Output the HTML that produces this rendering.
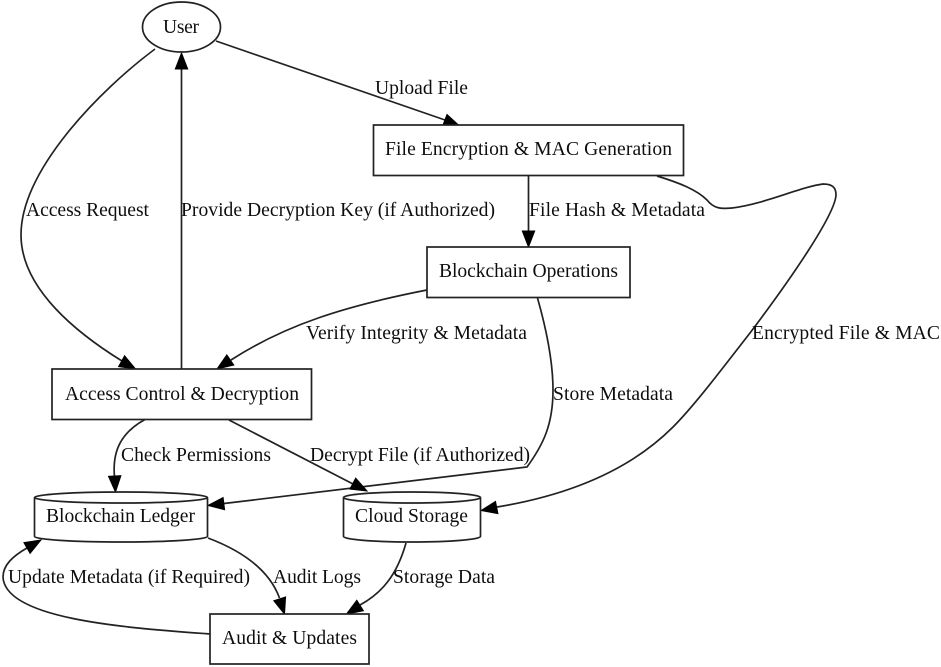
<!DOCTYPE html>
<html>
<head>
<meta charset="utf-8">
<style>
html,body{margin:0;padding:0;background:#fff;width:941px;height:667px;overflow:hidden}
svg{display:block}
text{font-family:"Liberation Serif",serif;font-size:19.6px;fill:#111}
.s{fill:#fff;stroke:#222;stroke-width:1.7}
.e{fill:none;stroke:#222;stroke-width:1.7}
.a{fill:#000;stroke:#000;stroke-width:1}
</style>
</head>
<body>
<svg width="941" height="667" viewBox="0 0 941 667" xmlns="http://www.w3.org/2000/svg">
<defs><filter id="b" x="0" y="0" width="100%" height="100%"><feGaussianBlur stdDeviation="0.35"/></filter></defs>
<g filter="url(#b)">
<rect width="941" height="667" fill="#fff"/>
<!-- edges -->
<path class="e" d="M216,41 L445,120"/>
<polygon class="a" points="458.5,125 443,125 447,114.5"/>
<path class="e" d="M155,49 C100,90 21,170 21,235 C21,290 80,335 122,361"/>
<polygon class="a" points="135.5,369 118.6,366.6 124.6,355.8"/>
<path class="e" d="M181.5,369 V68"/>
<polygon class="a" points="181.5,53 175.3,69 187.7,69"/>
<path class="e" d="M528.5,175.5 V232"/>
<polygon class="a" points="528.5,247 522.3,231 534.7,231"/>
<path class="e" d="M657,176 C680,183 697,190 707,200 C714,209 722,209 732,208 C765,204 800,187 823,184 C833,184 836,188 836,195 C835,215 790,280 750,333 C725,365 695,405 673,427 C630,470 570,495 497,507"/>
<polygon class="a" points="481,510.5 495.5,501.4 497.9,513.6"/>
<path class="e" d="M537.5,298 C548,335 553,365 553,390 C553,425 543,445 527,467 L224,503.5"/>
<polygon class="a" points="208,505.5 223.1,497.5 224.6,509.7"/>
<path class="e" d="M427,290 C345,306 285,325 231,360"/>
<polygon class="a" points="217,369 226.8,354.9 233.8,365.1"/>
<path class="e" d="M145,419.5 C122,432 112,450 114.5,477"/>
<polygon class="a" points="115.5,492 108.5,476.3 120.9,475.7"/>
<path class="e" d="M229,420 L353,484"/>
<polygon class="a" points="367,491 349.9,489.1 355.7,478.1"/>
<path class="e" d="M208,538 C245,552 270,572 279.5,598"/>
<polygon class="a" points="284.5,614 273.8,600.7 285.6,596.9"/>
<path class="e" d="M406,543 C397,575 382,593 360,605"/>
<polygon class="a" points="346.5,614 356.8,600.2 363.4,610.8"/>
<path class="e" d="M210,634 C130,628 5,620 3,577 C3,565 13,556 27,548"/>
<polygon class="a" points="41,540 23.9,542.6 30.1,553.4"/>
<!-- nodes -->
<ellipse class="s" cx="181.5" cy="27" rx="39" ry="25"/>
<rect class="s" x="373.5" y="125" width="310" height="50.5"/>
<rect class="s" x="427" y="247" width="203" height="50.5"/>
<rect class="s" x="52" y="369" width="259.5" height="50.5"/>
<rect class="s" x="210" y="614" width="159" height="50"/>
<path class="s" d="M207.5,497.5 V536.5 C207.5,539.5 168.5,542 121,542 C73.5,542 34.5,539.5 34.5,536.5 V497.5 C34.5,494.5 73.5,492 121,492 C168.5,492 207.5,494.5 207.5,497.5 Z M207.5,497.5 C207.5,500.5 168.5,503 121,503 C73.5,503 34.5,500.5 34.5,497.5"/>
<path class="s" d="M480.5,497.5 V536.5 C480.5,539.5 450,542 412,542 C374,542 343.5,539.5 343.5,536.5 V497.5 C343.5,494.5 374,492 412,492 C450,492 480.5,494.5 480.5,497.5 Z M480.5,497.5 C480.5,500.5 450,503 412,503 C374,503 343.5,500.5 343.5,497.5"/>
<!-- node labels -->
<text x="163" y="33" textLength="36">User</text>
<text x="385" y="155" textLength="287">File Encryption &amp; MAC Generation</text>
<text x="439" y="277" textLength="179">Blockchain Operations</text>
<text x="65" y="400" textLength="234">Access Control &amp; Decryption</text>
<text x="46" y="522" textLength="149">Blockchain Ledger</text>
<text x="355" y="522" textLength="113">Cloud Storage</text>
<text x="222" y="644" textLength="135">Audit &amp; Updates</text>
<!-- edge labels -->
<text x="375" y="94" textLength="93">Upload File</text>
<text x="26" y="216" textLength="123">Access Request</text>
<text x="181" y="216" textLength="314">Provide Decryption Key (if Authorized)</text>
<text x="529" y="216" textLength="176">File Hash &amp; Metadata</text>
<text x="752" y="339" textLength="188">Encrypted File &amp; MAC</text>
<text x="306" y="339" textLength="221">Verify Integrity &amp; Metadata</text>
<text x="553" y="400" textLength="120">Store Metadata</text>
<text x="121" y="461" textLength="150">Check Permissions</text>
<text x="310" y="461" textLength="220">Decrypt File (if Authorized)</text>
<text x="8" y="583" textLength="242">Update Metadata (if Required)</text>
<text x="273" y="583" textLength="88">Audit Logs</text>
<text x="393" y="583" textLength="102">Storage Data</text>
</g>
</svg>
</body>
</html>
